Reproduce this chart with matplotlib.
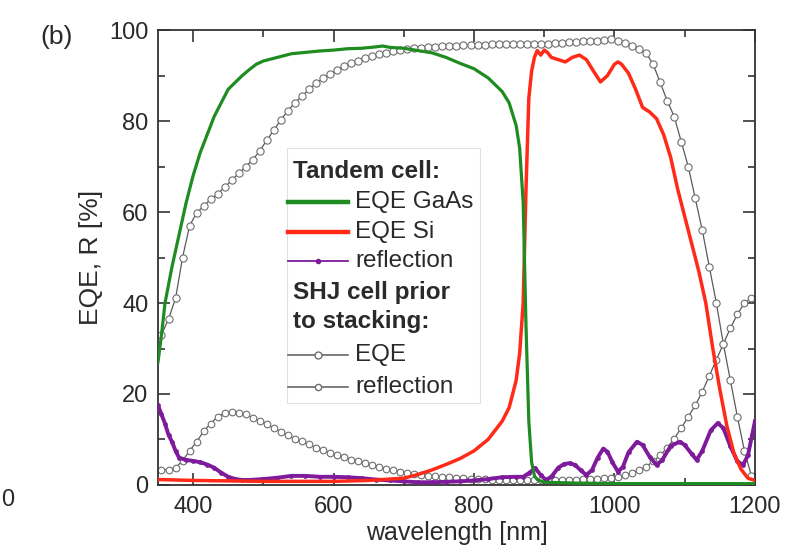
import matplotlib
matplotlib.use("Agg")
import matplotlib.pyplot as plt
from matplotlib.lines import Line2D
from matplotlib.patches import Rectangle
from matplotlib.ticker import MultipleLocator

plt.rcParams['font.family'] = ['Liberation Sans', 'DejaVu Sans']

# ---------------- data ----------------
gaas_wl = [350, 355, 360, 365, 370, 380, 390, 400, 410, 420, 430, 440, 450, 460, 470, 480,
           490, 500, 520, 540, 560, 580, 600, 620, 640, 660, 670, 680, 700, 720, 740, 760,
           780, 800, 820, 840, 850, 860, 865, 870, 874, 878, 882, 886, 890, 900, 950, 1000,
           1050, 1100, 1150, 1200]
gaas_eqe = [27, 33, 40, 44, 48, 55, 62, 68, 73, 77, 81, 84, 87, 88.5, 90, 91.3,
            92.5, 93.2, 94, 94.8, 95.1, 95.4, 95.6, 95.9, 96, 96.3, 96.5, 96.2, 96, 95.5, 95, 94,
            92.7, 91.5, 89.5, 86.5, 84, 79, 74, 62, 35, 14, 5, 2, 1.2, 0.6, 0.4, 0.3,
            0.3, 0.3, 0.3, 0.3]

si_wl = [350, 400, 500, 600, 650, 700, 720, 740, 760, 780, 800, 820, 840, 850, 860, 865,
         870, 874, 878, 882, 886, 890, 895, 900, 905, 910, 920, 930, 940, 950, 960, 970,
         980, 990, 1000, 1005, 1010, 1020, 1030, 1040, 1050, 1060, 1070, 1080, 1090, 1100,
         1110, 1120, 1130, 1140, 1150, 1160, 1170, 1180, 1190, 1200]
si_eqe = [1.2, 1.0, 0.8, 0.8, 1.0, 1.5, 2.3, 3.3, 4.5, 5.8, 7.5, 10, 14, 17, 23, 29,
          40, 65, 85, 91, 94, 95.5, 94.5, 95.6, 95, 94, 93.5, 93, 94, 94.5, 93.5, 91,
          88.6, 90, 92.5, 93, 92.5, 90.5, 87, 83, 82, 80.5, 77, 72, 65, 59,
          53, 47, 40, 30, 21, 13, 7, 3.5, 1.5, 1.0]

refl_wl = [350, 355, 360, 365, 370, 375, 380, 390, 400, 410, 420, 430, 440, 450, 460, 470,
           480, 500, 520, 540, 560, 580, 600, 620, 640, 660, 680, 700, 720, 740, 760, 780,
           800, 820, 840, 860, 870, 878, 887, 895, 903, 911, 920, 928, 936, 944, 952, 960,
           968, 976, 984, 990, 997, 1005, 1012, 1020, 1032, 1040, 1050, 1060, 1068, 1080,
           1093, 1100, 1110, 1117, 1125, 1137, 1147, 1155, 1165, 1175, 1183, 1190, 1196, 1200]
refl_tandem = [17.5, 15.5, 13.5, 11, 9.5, 7.5, 6, 5.5, 5.3, 5, 4.5, 3.8, 2.7, 1.8, 1.3, 1.1,
               1.1, 1.3, 1.6, 2, 2, 1.8, 1.8, 1.7, 1.5, 1.2, 1.0, 0.8, 0.6, 0.6, 0.7, 0.8,
               1.0, 1.3, 1.7, 1.8, 1.8, 2.6, 3.7, 2.2, 1.0, 2.0, 3.8, 4.6, 4.8, 4.4, 3.2, 2.2,
               3.3, 6.0, 8.0, 7.3, 5.0, 2.9, 4.0, 7.2, 9.5, 8.8, 6.2, 4.4, 5.5, 8.6,
               9.5, 8.8, 6.8, 5.5, 7.5, 12, 13.6, 12.5, 8.5, 5.2, 4.4, 6.5, 11, 14]

shj_wl = list(range(355, 1200, 10))
shj_eqe = [33, 36.5, 41, 50, 57, 59.8, 61.3, 62.8, 64, 65.5, 67, 68.5, 70, 71.5, 73.5, 75.8,
           78, 80.3, 82.3, 84, 85.5, 87, 88.3, 89.4, 90.3, 91.2, 92, 92.7, 93.3, 93.8, 94.3, 94.7,
           95, 95.3, 95.6, 95.8, 96, 96.1, 96.2, 96.3, 96.4, 96.5, 96.6, 96.7, 96.7, 96.8, 96.8,
           96.9, 96.9, 96.9, 97, 97, 97, 97, 97, 97, 97.1, 97.2, 97.3, 97.4, 97.5, 97.6, 97.7,
           97.9, 98, 97.7, 97.2, 96.5, 95.8, 95, 92.5, 88.5, 84.5, 81, 75.5, 70, 63, 56, 48,
           40, 31, 23, 15, 7.5, 2]
shj_refl = [3.3, 3.4, 3.8, 5.3, 7.5, 9.5, 11.8, 13.5, 15, 15.8, 16.1, 15.9, 15.5, 14.8, 14, 13.3,
            12.5, 11.7, 10.9, 10.2, 9.6, 8.9, 8.2, 7.6, 7.1, 6.6, 6.1, 5.6, 5.2, 4.8, 4.4, 4,
            3.6, 3.2, 2.9, 2.6, 2.4, 2.2, 2, 1.9, 1.8, 1.7, 1.6, 1.5, 1.4, 1.3, 1.3,
            1.2, 1.2, 1.1, 1.1, 1.1, 1.1, 1.1, 1.1, 1.1, 1.1, 1.2, 1.2, 1.2, 1.3, 1.3, 1.4,
            1.5, 1.6, 1.8, 2.2, 2.7, 3.3, 4, 5.2, 6.5, 8.2, 10.2, 12.5, 15, 17.5, 20.5, 24,
            27.5, 31, 34.5, 37.5, 40, 41]

x_ticks = [400, 600, 800, 1000, 1200]
y_ticks = [0, 20, 40, 60, 80, 100]

legend_headers = ["Tandem cell:", "SHJ cell prior", "to stacking:"]
legend_labels = ["EQE GaAs", "EQE Si", "reflection", "EQE", "reflection"]

# ---------------- styles ----------------
GREEN = '#1f8c22'
RED = '#ff2a18'
PURPLE = '#7d1b9b'
GRAY = '#5a5a5a'
MGRAY = '#6e6e6e'
TXT = '#2a2a2a'

fig = plt.figure(figsize=(7.86, 5.57), dpi=100)
ax = fig.add_axes([0.201, 0.1293, 0.7595, 0.8167])

ax.plot(shj_wl, shj_refl, color=GRAY, lw=0.9, marker='o', ms=4.8, mfc='white',
        mec=MGRAY, mew=0.8, zorder=2)
ax.plot(shj_wl, shj_eqe, color=GRAY, lw=0.9, marker='o', ms=5.2, mfc='white',
        mec=MGRAY, mew=0.8, zorder=2)
ax.plot(refl_wl, refl_tandem, color=PURPLE, lw=2.8, marker='o', ms=2.4, mec=PURPLE,
        mfc=PURPLE, zorder=3)
ax.plot(si_wl, si_eqe, color=RED, lw=2.5, zorder=4)
ax.plot(gaas_wl, gaas_eqe, color=GREEN, lw=2.3, zorder=5)

ax.set_xlim(350, 1200)
ax.set_ylim(0, 100)
ax.set_xticks(x_ticks)
ax.set_yticks(y_ticks)
ax.xaxis.set_minor_locator(MultipleLocator(100))
ax.yaxis.set_minor_locator(MultipleLocator(10))
ax.tick_params(which='both', direction='in', top=True, right=True, colors='#333333',
               labelcolor=TXT, labelsize=17)
ax.tick_params(which='major', length=8.5, width=1.2)
ax.tick_params(which='minor', length=5, width=1.2)
ax.tick_params(axis='x', pad=8)
ax.tick_params(axis='y', pad=7)
for s in ax.spines.values():
    s.set_color('#333333')
    s.set_linewidth(1.3)

ax.set_xlabel('wavelength [nm]', fontsize=18, color=TXT, labelpad=2)
ax.set_ylabel('EQE, R [%]', fontsize=19, color=TXT, labelpad=4)

# ---------------- legend (manual) ----------------
box_l, box_r, box_b, box_t = 0.216, 0.539, 0.180, 0.741
ax.add_patch(Rectangle((box_l, box_b), box_r - box_l, box_t - box_b, transform=ax.transAxes,
                       facecolor='white', edgecolor='#e0e0e0', lw=0.8, zorder=6))
rows_px = [171, 202, 232, 261, 292, 321, 355, 387]
rows = [(485 - r) / 455 for r in rows_px]
hx0, hx1, tx, head_x = 0.218, 0.318, 0.330, 0.226
leg_fs = 17.5
for lab, y in zip(legend_headers, [rows[0], rows[4], rows[5]]):
    ax.text(head_x, y, lab, transform=ax.transAxes, fontsize=leg_fs,
            fontweight='bold', va='center', ha='left', color=TXT, zorder=7)
handles = [
    dict(color=GREEN, lw=3.2),
    dict(color=RED, lw=3.2),
    dict(color=PURPLE, lw=1.3, marker='o', ms=3, markevery=[1]),
    dict(color=GRAY, lw=1.1, marker='o', ms=5, mfc='white', mec=MGRAY, markevery=[1]),
    dict(color=GRAY, lw=1.1, marker='o', ms=4.5, mfc='white', mec=MGRAY, markevery=[1]),
]
hrows = [rows[1], rows[2], rows[3], rows[6], rows[7]]
for h, lab, y in zip(handles, legend_labels, hrows):
    ln = Line2D([hx0, (hx0 + hx1) / 2, hx1], [y, y, y], transform=ax.transAxes,
                clip_on=False, zorder=7, **h)
    ax.add_line(ln)
    ax.text(tx, y, lab, transform=ax.transAxes, fontsize=leg_fs, va='center', ha='left',
            color=TXT, zorder=7)

fig.text(57 / 786, 1 - 37 / 557, '(b)', fontsize=19, ha='center', va='center', color=TXT)
fig.text(1 / 786, 1 - 500 / 557, '0', fontsize=17, ha='left', va='center', color=TXT)

fig.savefig('out.png', dpi=100)
